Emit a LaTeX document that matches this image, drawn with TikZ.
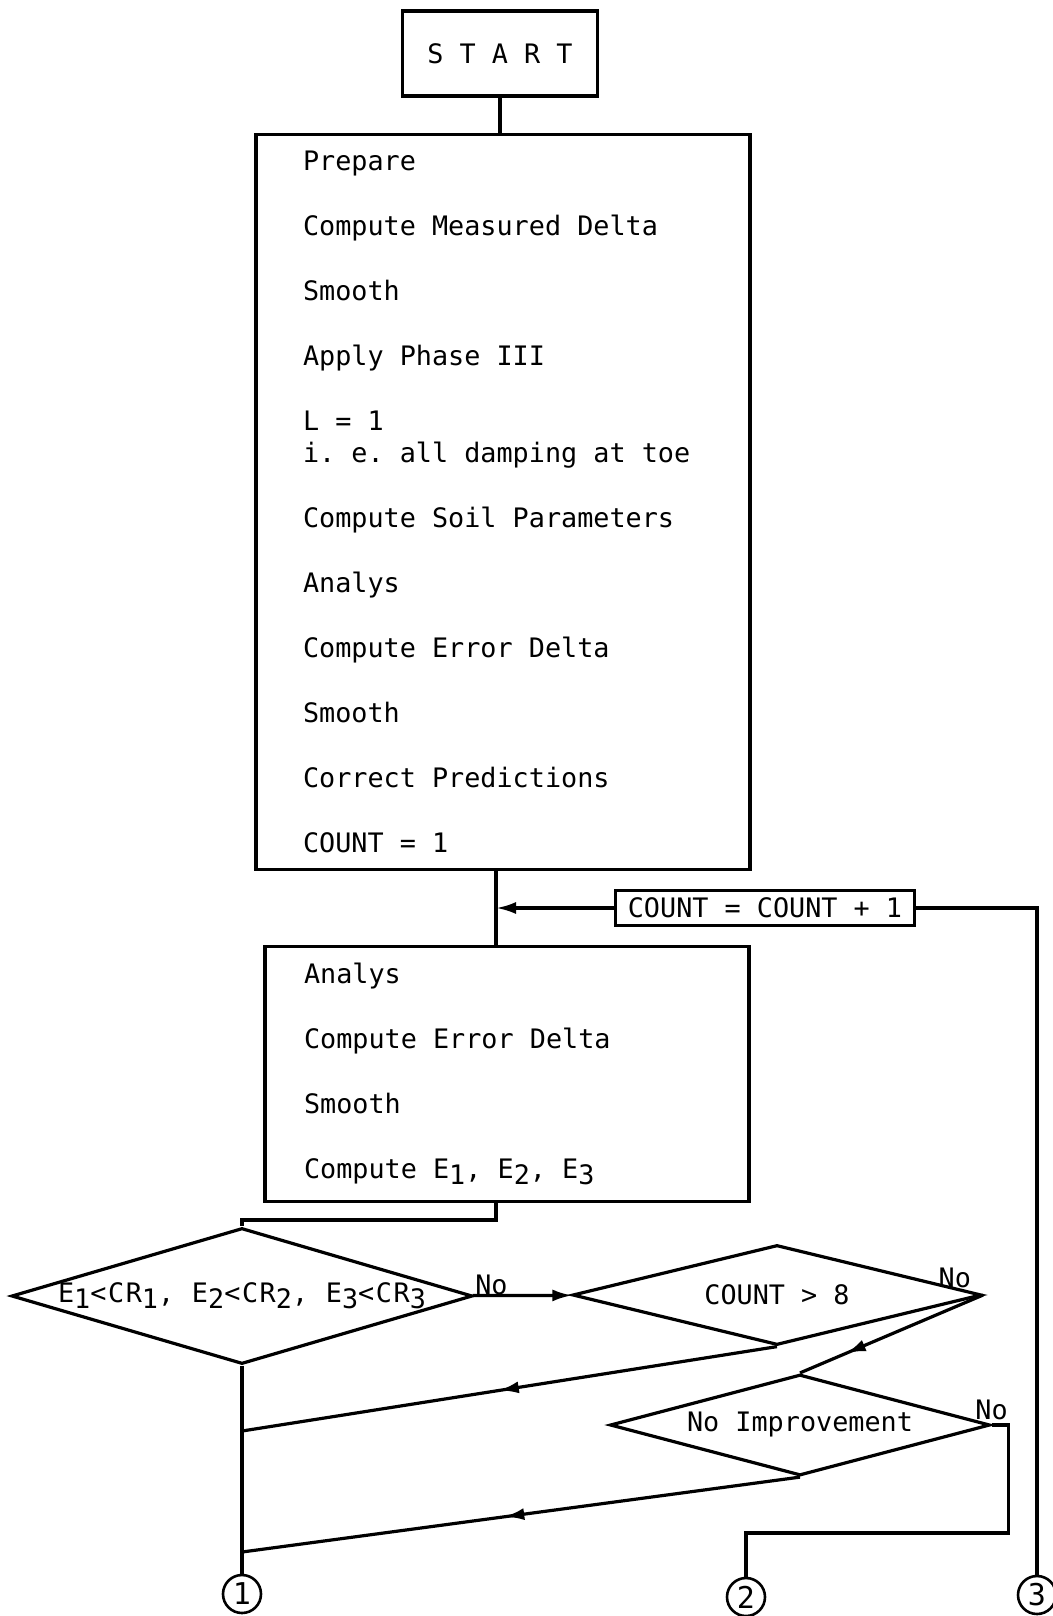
\documentclass[tikz,border=0pt]{standalone}
\usepackage{fontspec}
\setmonofont{DejaVu Sans Mono}
\usetikzlibrary{arrows.meta, positioning, shapes.geometric, calc, decorations.markings}

\newcommand{\lowsub}[1]{\raisebox{-0.4ex}{#1}}

\begin{document}
\begin{tikzpicture}[
    x=1pt, y=1pt,
    font=\ttfamily\fontsize{26.8}{32.5}\selectfont,
    wire/.style={line width=3.2pt},
    block/.style={rectangle, draw, line width=3.2pt, align=flush left, inner ysep=0pt},
    decision/.style={diamond, draw, line width=3.2pt, aspect=4, inner sep=0pt},
    tag/.style={inner sep=1pt},
    link/.style={circle, draw, line width=2.6pt, minimum size=38pt, inner sep=0pt,
                 font=\ttfamily\fontsize{30}{30}\selectfont},
    arrow/.style={wire, -{Latex[length=20pt, width=12pt]}},
    midarrow/.style={wire, postaction={decorate}, decoration={markings,
                     mark=at position #1 with {\arrow{Latex[length=20pt, width=12pt]}}}},
]
    \useasboundingbox (0,0) rectangle (1052,-1616);

    \node[block, align=center, minimum width=195pt, minimum height=85pt] (start) at (500,-53.5) {S T A R T};
    \node[block, text width=400pt, inner xsep=47pt, minimum height=735pt]
        (prep) [below=35pt of start, xshift=3pt]
        {Prepare\\[32.5pt]
         Compute Measured Delta\\[32.5pt]
         Smooth\\[32.5pt]
         Apply Phase III\\[32.5pt]
         L = 1\\
         i. e. all damping at toe\\[32.5pt]
         Compute Soil Parameters\\[32.5pt]
         Analys\\[32.5pt]
         Compute Error Delta\\[32.5pt]
         Smooth\\[32.5pt]
         Correct Predictions\\[32.5pt]
         COUNT = 1};
    \node[block, text width=406pt, inner xsep=39pt, minimum height=255pt]
        (check) [below=74pt of prep, xshift=4pt]
        {Analys\\[32.5pt]
         Compute Error Delta\\[32.5pt]
         Smooth\\[32.5pt]
         Compute E\lowsub{1}, E\lowsub{2}, E\lowsub{3}};

    % Loop counter
    \coordinate (jn) at (496,-908);
    \node[block, inner xsep=12pt, minimum height=35pt] (cnt) at (765,-908) {COUNT = COUNT + 1};

    % Tests
    \node[decision, minimum width=461pt, minimum height=136pt] (d1) at (242,-1296)
        {\addfontfeature{LetterSpace=6}%
         \makebox[0pt]{E\lowsub{1}<CR\lowsub{1}, E\lowsub{2}<CR\lowsub{2}, E\lowsub{3}<CR\lowsub{3}}};
    \node[decision, minimum width=409pt, minimum height=100pt] (d2) at (777,-1295) {COUNT > 8};
    \node[decision, minimum width=380pt, minimum height=101pt] (d3) at (800,-1425) {No Improvement};

    \node[tag, anchor=south west] (no1) at (d1.east) {No};
    \node[tag, anchor=south east] (no2) at ($(d2.east)+(-11,6)$) {No};
    \node[tag, anchor=south] (no3) at ($(d3.east)+(0,4)$) {No};

    % Exits
    \node[link] (c1) at (242,-1594) {1};
    \node[link] (c2) at (746,-1597) {2};
    \node[link] (c3) at (1037,-1595) {3};
    \coordinate (j1) at (242,-1431);
    \coordinate (j2) at (242,-1552);

    \draw[wire] (start.south) -- (start.south |- prep.north);
    \draw[wire] (prep.south -| jn) -- (check.north -| jn);
    \draw[arrow] (cnt) -- (jn);
    \draw[wire] (cnt) -| (c3);
    \draw[wire] (check.south -| jn) -- ++(0,-17) -| (d1);
    \draw[arrow] (d1) -- (d2);
    \draw[midarrow=0.52] (d2.south) -- (j1);
    \draw[midarrow=0.75] (d2.east) -- (d3.north);
    \draw[midarrow=0.53] (d3.south) -- (j2);
    \draw[wire] (d1) -- (c1);
    \draw[wire] (d3.east) -- ++(17,0) -- ++(0,-108) -| (c2);
\end{tikzpicture}
\end{document}
